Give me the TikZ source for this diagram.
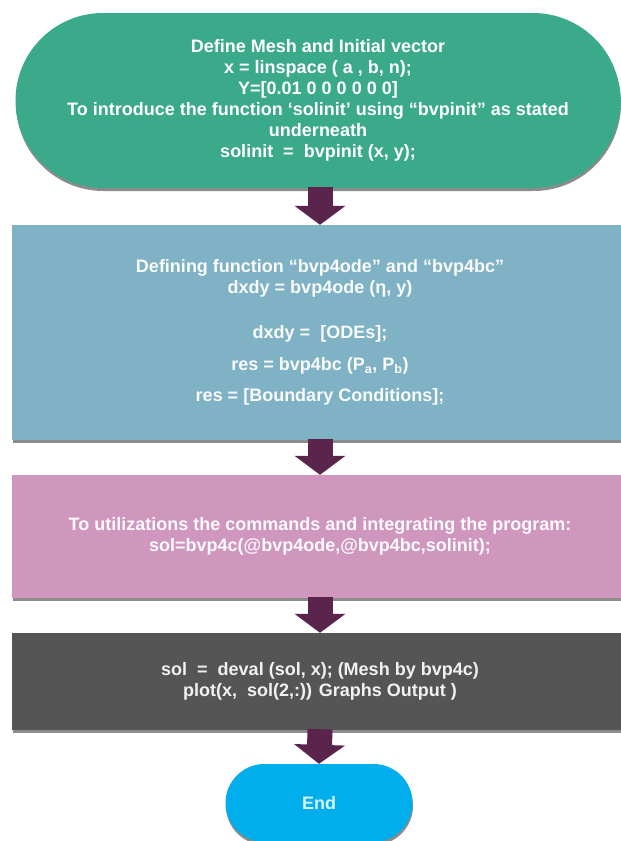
\documentclass[tikz,border=0pt]{standalone}
\usepackage{fontspec}
\setmainfont{Liberation Sans}
\usetikzlibrary{shapes.misc,shadows,arrows.meta}
\definecolor{cgreen}{RGB}{58,170,138}
\definecolor{cblue}{RGB}{127,178,196}
\definecolor{cpink}{RGB}{207,150,190}
\definecolor{cgray}{RGB}{85,85,85}
\definecolor{cend}{RGB}{0,174,236}
\definecolor{carrow}{RGB}{90,36,76}
\definecolor{ctxtend}{RGB}{215,245,255}
\tikzset{
  boxtext/.style={font=\fontsize{18}{21}\selectfont\bfseries, text=white, align=center, inner sep=0pt},
  shade/.style={drop shadow={shadow xshift=0.5pt, shadow yshift=-3pt, opacity=0.45, fill=black}},
  pill/.style={rounded rectangle, boxtext, shade},
  boxrect/.style={rectangle, boxtext, shade},
  blockarrow/.style={draw=carrow, line width=25pt, -{Triangle[width=50pt,length=19pt]}, carrow, shorten <=-1pt}
}
\begin{document}
\begin{tikzpicture}[x=1pt,y=-1pt]
\useasboundingbox (0,0) rectangle (621,841);
\clip (0,0) rectangle (621,841);
\fill[white] (0,0) rectangle (621,841);
\node[pill, fill=cgreen, minimum width=605pt, minimum height=175pt] (start) at (318,100.5)
  {Define Mesh and Initial vector\\
   x = linspace ( a , b, n);\\
   Y=[0.01 0 0 0 0 0 0]\\
   To introduce the function ‘solinit’ using “bvpinit” as stated\\
   underneath\\
   solinit\ \ =\ \ bvpinit (x, y);};
\node[boxrect, fill=cblue, text=white!95!cblue, minimum width=616pt, minimum height=215pt] (define) at (320,332.5)
  {Defining function “bvp4ode” and “bvp4bc”\\
   dxdy = bvp4ode (η, y)\\[24pt]
   dxdy =\ \ [ODEs];\\[11pt]
   res = bvp4bc (P\textsubscript{a}, P\textsubscript{b})\\[10pt]
   res = [Boundary Conditions];};
\node[boxrect, fill=cpink, text=white!95!cpink, minimum width=616pt, minimum height=123pt] (integ) at (320,536.5)
  {\fontsize{18}{23}\selectfont To utilizations the commands and integrating the program:\\
   sol=bvp4c(@bvp4ode,@bvp4bc,solinit);};
\node[boxrect, fill=cgray, text=white!92!cgray, minimum width=616pt, minimum height=97pt] (output) at (320,681.5)
  {\fontsize{18}{22}\selectfont sol\ \ =\ \ deval (sol, x); (Mesh by bvp4c)\\
   plot(x,\ \ sol(2,:)) Graphs Output )};
\node[pill, fill=cend, text=ctxtend, minimum width=187pt, minimum height=78pt] (finish) at (319,803) {End};
\draw[blockarrow] (start.south -| define.north) -- (define.north);
\draw[blockarrow] (define.south) -- (integ.north);
\draw[blockarrow] (integ.south) -- (output.north);
\draw[blockarrow] (output.south) -- (finish.north);
\end{tikzpicture}
\end{document}
